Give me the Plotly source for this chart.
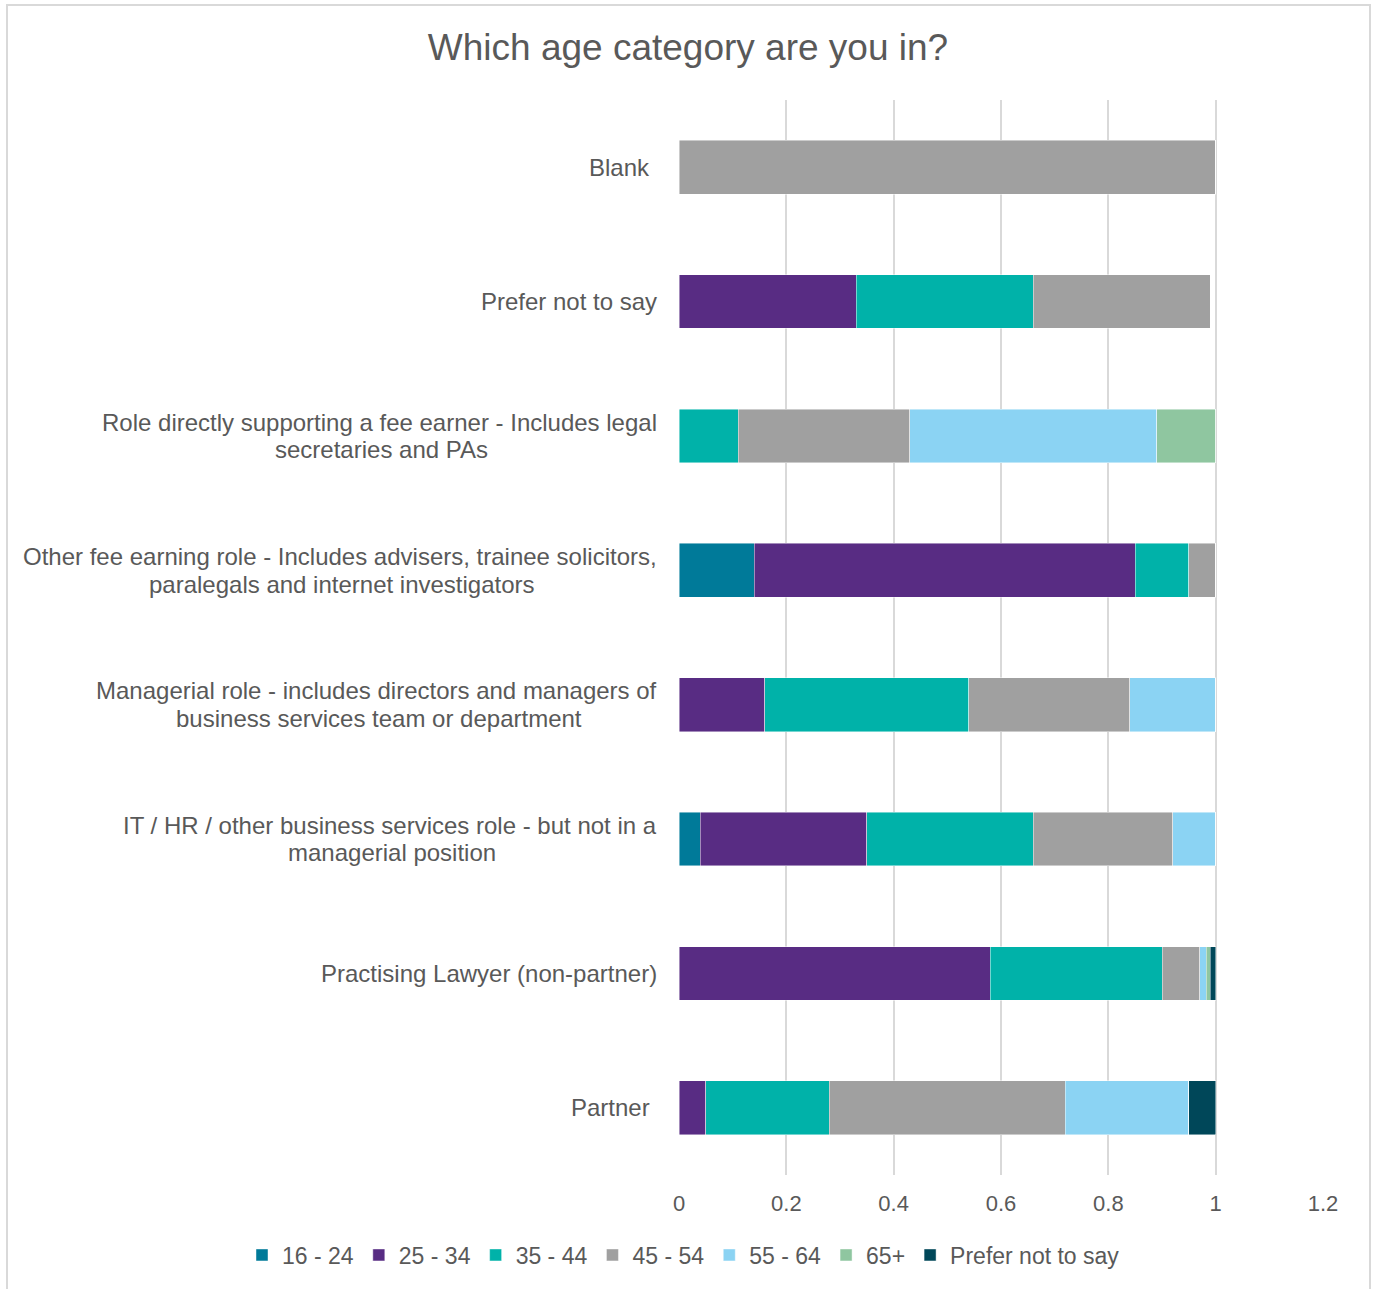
import plotly.graph_objects as go

# Job roles, top to bottom (trailing spaces as in the source labels)
roles = [
    "Blank ",
    "Prefer not to say",
    "Role directly supporting a fee earner - Includes legal<br>secretaries and PAs",
    "Other fee earning role - Includes advisers, trainee solicitors,<br>paralegals and internet investigators",
    "Managerial role - includes directors and managers of<br>business services team or department",
    "IT / HR / other business services role - but not in a<br>managerial position",
    "Practising Lawyer (non-partner)",
    "Partner ",
]

age_groups = ["16 - 24", "25 - 34", "35 - 44", "45 - 54", "55 - 64", "65+", "Prefer not to say"]

# Share of respondents in each age group, per role (same order as roles)
age_16_24 = [0, 0, 0, 0.14, 0, 0.04, 0, 0]
age_25_34 = [0, 0.33, 0, 0.71, 0.16, 0.31, 0.58, 0.05]
age_35_44 = [0, 0.33, 0.11, 0.10, 0.38, 0.31, 0.32, 0.23]
age_45_54 = [1.0, 0.33, 0.32, 0.05, 0.30, 0.26, 0.07, 0.44]
age_55_64 = [0, 0, 0.46, 0, 0.16, 0.08, 0.012, 0.23]
age_65_plus = [0, 0, 0.11, 0, 0, 0, 0.008, 0]
age_undisclosed = [0, 0, 0, 0, 0, 0, 0.01, 0.05]

series = [age_16_24, age_25_34, age_35_44, age_45_54, age_55_64, age_65_plus, age_undisclosed]
colors = ["#007A99", "#582C83", "#00B2A9", "#A0A0A0", "#8BD3F3", "#8FC6A0", "#004759"]

x_ticks = [0, 0.2, 0.4, 0.6, 0.8, 1.0, 1.2]
x_tick_text = ["0", "0.2", "0.4", "0.6", "0.8", "1", "1.2"]

FONT = "Liberation Sans, Arial, sans-serif"
LABEL_SIZE = 24
LABEL_COLOR = "#595959"
LABEL_GAP = 20                   # px between label block and the axis
LINE_STEP = 27.5                 # px between wrapped label lines
W, H = 1377, 1289
ML, MR, MT, MB = 679, 54, 100, 114
PW, PH = W - ML - MR, H - MT - MB

# Advance widths (1/1000 em) of Liberation Sans / Arial, for centring wrapped lines
_ADV = {
    " ": 278, ",": 278, "-": 333, "/": 278, "(": 333, ")": 333, ".": 278,
    "A": 667, "H": 722, "I": 278, "L": 556, "M": 833, "O": 778, "P": 667, "R": 722, "T": 611,
    "a": 556, "b": 556, "c": 500, "d": 556, "e": 556, "f": 278, "g": 556, "h": 556,
    "i": 222, "j": 222, "k": 500, "l": 222, "m": 833, "n": 556, "o": 556, "p": 556,
    "q": 556, "r": 333, "s": 500, "t": 278, "u": 556, "v": 500, "w": 722, "x": 500,
    "y": 500, "z": 500,
}


def text_width(s, size):
    return sum(_ADV.get(ch, 556) for ch in s) * size / 1000.0


fig = go.Figure()
for name, vals, col in zip(age_groups, series, colors):
    fig.add_trace(go.Bar(
        name=name,
        y=roles,
        x=vals,
        orientation="h",
        marker=dict(color=col, line=dict(color="rgba(255,255,255,0.6)", width=0.75)),
        hovertemplate="%{x}<extra>" + name + "</extra>",
    ))

label_font = dict(family=FONT, size=LABEL_SIZE, color=LABEL_COLOR)

# Role labels: right-aligned next to the axis, a wrapped second line centred under the first
for r in roles:
    shown = r.rstrip()
    pad = text_width(r[len(shown):], LABEL_SIZE)
    lines = shown.split("<br>")
    if len(lines) == 1:
        fig.add_annotation(
            x=0, xref="paper", y=r, yref="y", text=shown, showarrow=False,
            xanchor="right", yanchor="middle", xshift=-LABEL_GAP - pad, font=label_font,
        )
        continue
    first, second = lines
    fig.add_annotation(
        x=0, xref="paper", y=r, yref="y", text=first, showarrow=False,
        xanchor="right", yanchor="middle", xshift=-LABEL_GAP - pad, yshift=LINE_STEP / 2,
        font=label_font,
    )
    fig.add_annotation(
        x=0, xref="paper", y=r, yref="y", text=second, showarrow=False,
        xanchor="center", yanchor="middle",
        xshift=-LABEL_GAP - pad - text_width(first, LABEL_SIZE) / 2,
        yshift=-LINE_STEP / 2,
        font=label_font,
    )


# Outer chart frame (pixel positions converted to paper units)
def px_x(p):
    return (p - ML) / PW


def px_y(p):
    return 1 - (p - MT) / PH


fig.add_shape(type="rect", xref="paper", yref="paper",
              x0=px_x(7), x1=px_x(1370), y0=px_y(1300), y1=px_y(5),
              line=dict(color="#D9D9D9", width=2), fillcolor="rgba(0,0,0,0)", layer="below")

fig.update_layout(
    width=W, height=H,
    barmode="stack",
    bargap=0.6,
    paper_bgcolor="white",
    plot_bgcolor="white",
    margin=dict(l=ML, r=MR, t=MT, b=MB, autoexpand=False),
    title=dict(text="Which age category are you in?", x=688 / W, xanchor="center", xref="container",
               y=1 - 47 / H, yanchor="middle", yref="container",
               font=dict(family=FONT, size=37, color="#595959")),
    font=dict(family=FONT, color="#595959"),
    showlegend=True,
    legend=dict(orientation="h", xref="paper", yref="paper",
                x=px_x(242), xanchor="left", y=px_y(1255), yanchor="middle",
                font=dict(family=FONT, size=23, color="#595959"),
                traceorder="normal", itemwidth=30, bgcolor="rgba(0,0,0,0)"),
)

fig.update_xaxes(
    range=[0, 1.2],
    tickvals=x_ticks, ticktext=x_tick_text,
    showgrid=True, gridcolor="#D9D9D9", gridwidth=1.5,
    zeroline=False, showline=False,
    ticks="", ticklabelstandoff=13,
    tickfont=dict(family=FONT, size=22, color="#595959"),
)
fig.update_yaxes(
    categoryorder="array", categoryarray=roles,
    autorange="reversed",
    showticklabels=False, showgrid=False, zeroline=False, showline=False,
)

fig.write_html("out.html")
